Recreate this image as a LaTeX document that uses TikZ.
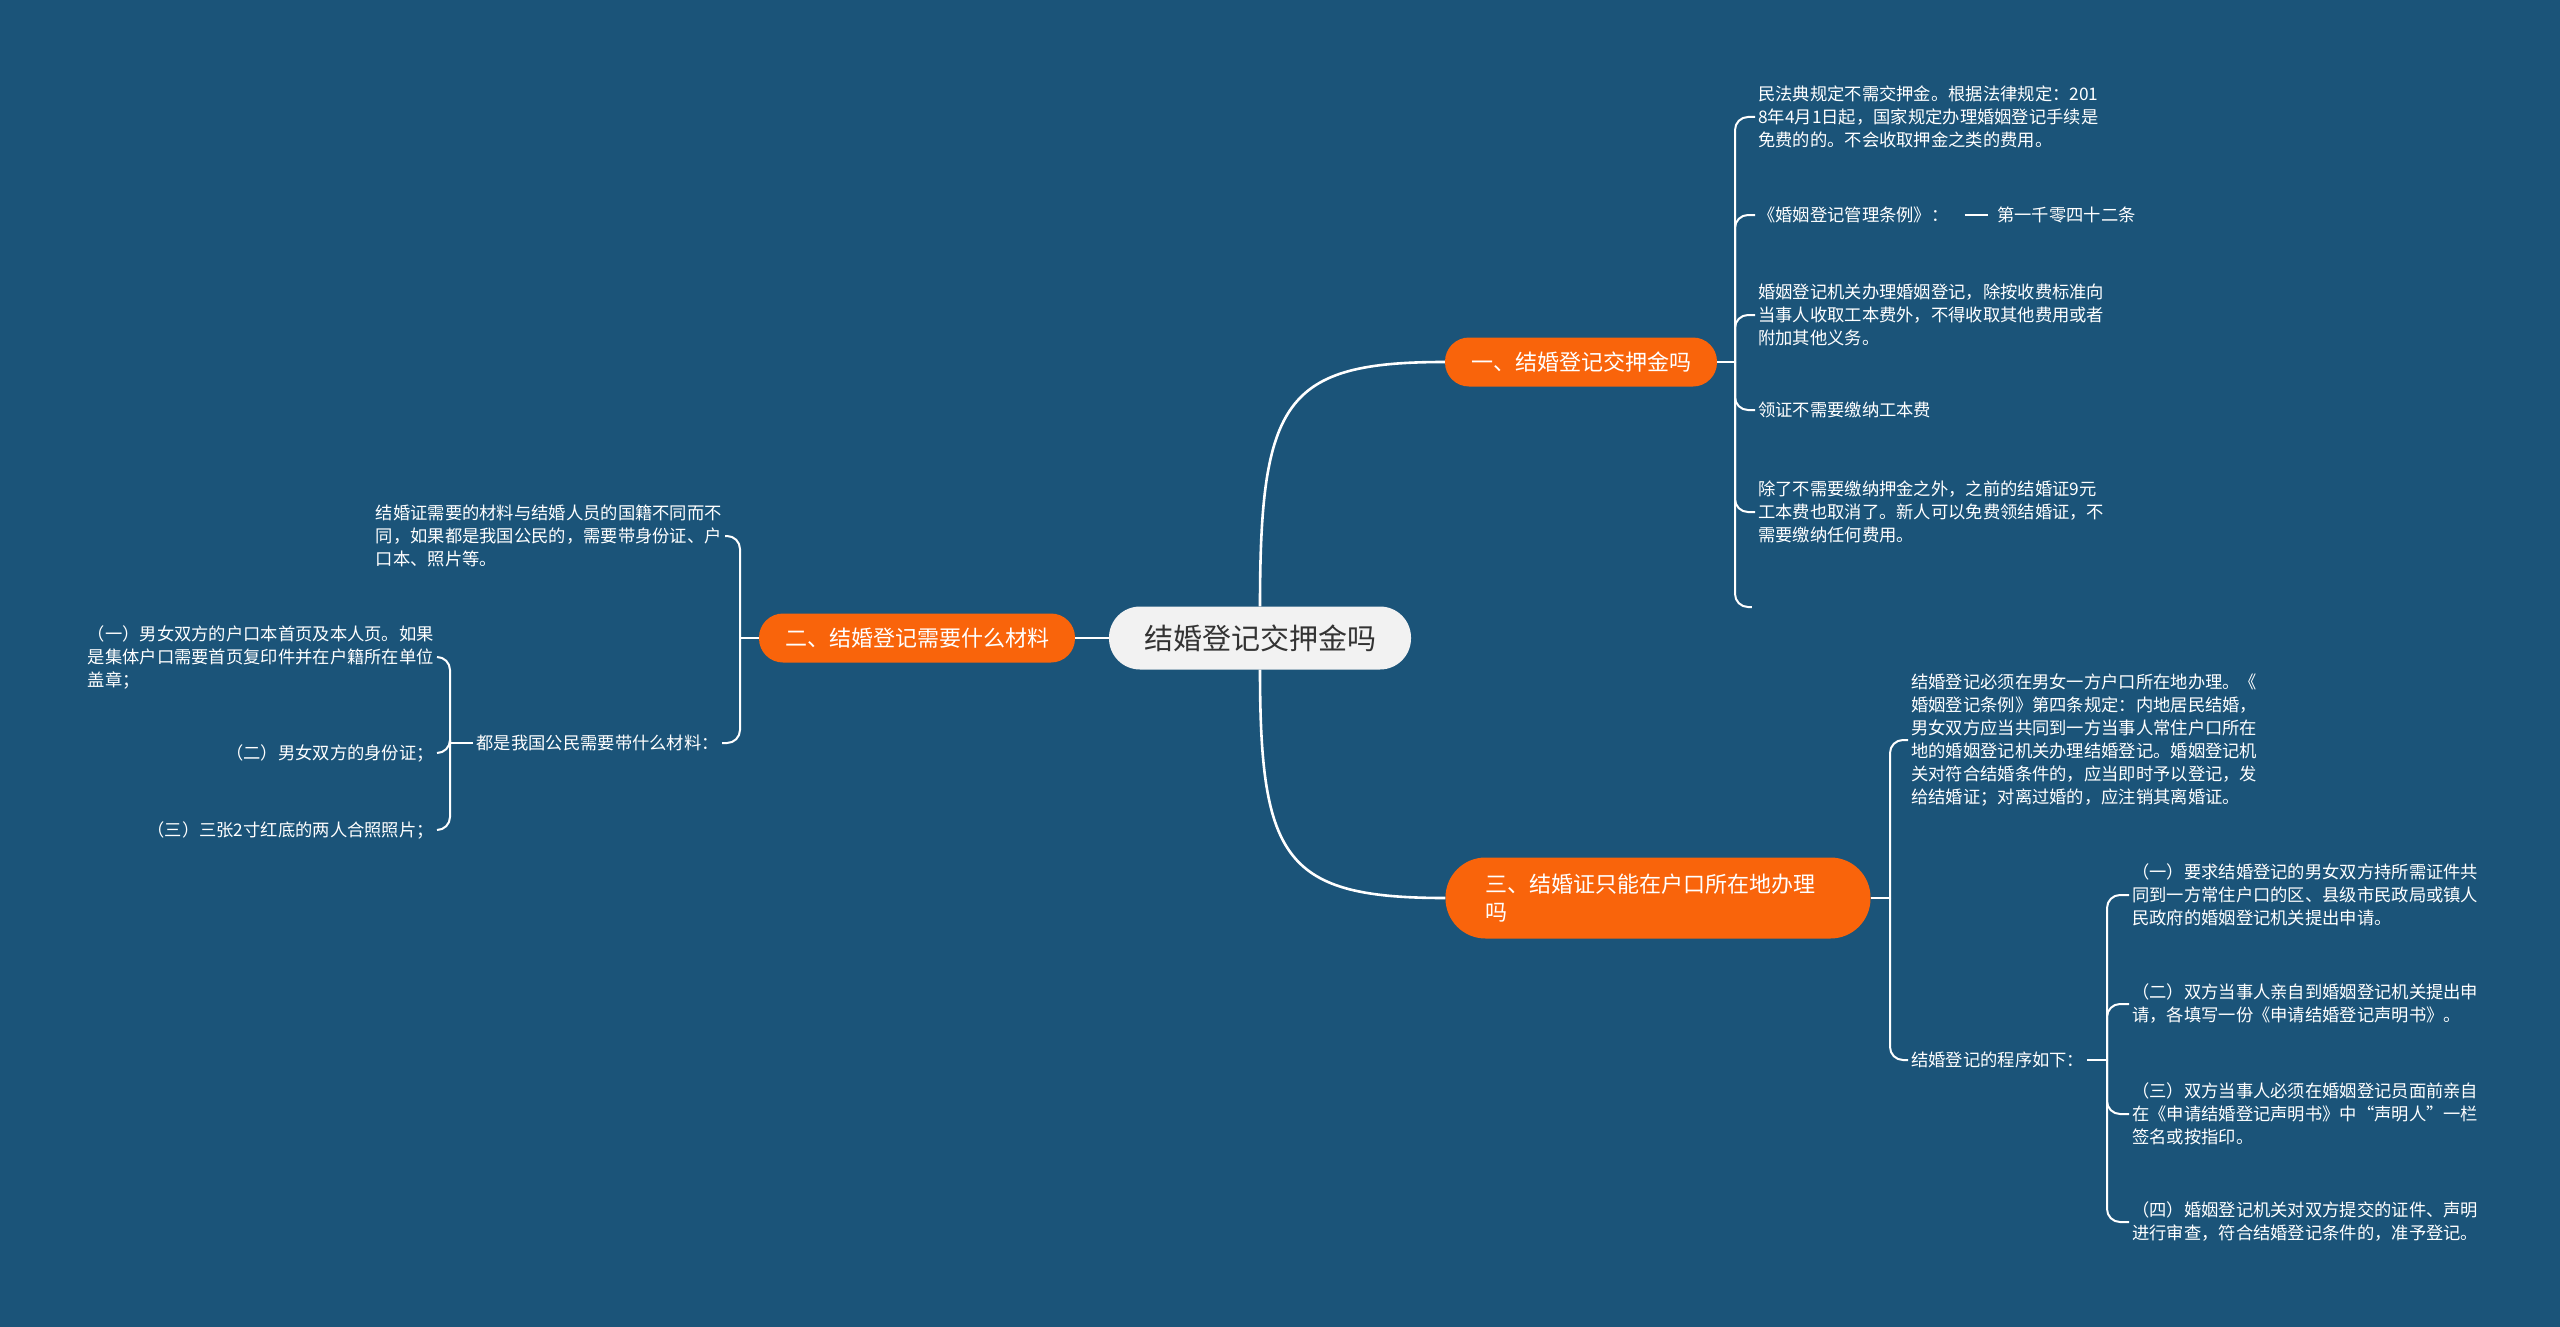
\documentclass[tikz,border=0pt]{standalone}
\usepackage{fontspec}
\setmainfont{Noto Sans CJK SC}
\usepackage{tikz}
\definecolor{mapBack}{HTML}{1B5479}
\definecolor{mapOrange}{HTML}{F9640B}
\definecolor{mapRoot}{HTML}{F2F2F2}
\definecolor{mapInk}{HTML}{333333}
\tikzset{
    map/root/.style={
        rectangle, rounded corners=31pt, fill=mapRoot, text=mapInk,
        font=\fontsize{29}{34}\selectfont,
        minimum width=302pt, minimum height=63pt, inner sep=0pt
    },
    map/topic/.style={
        rectangle, rounded corners=24pt, fill=mapOrange, text=white,
        font=\fontsize{22}{28}\selectfont,
        minimum height=49pt, inner xsep=26pt, inner ysep=0pt
    },
    map/note/.style={
        align=left, text=white, font=\fontsize{17.3}{23}\selectfont,
        inner sep=3pt
    },
    map/link/.style={draw=white, line width=2.6pt},
    map/brace/.style={draw=white, line width=2pt, rounded corners=13pt},
    map/stub/.style={inner sep=0pt, minimum size=0pt}
}

\begin{document}
\begin{tikzpicture}[x=1pt, y=-1pt]
    \fill[mapBack] (0,0) rectangle (2560,1327);
    \useasboundingbox (0,0) rectangle (2560,1327);

    \node[map/root] (root) at (1260,638) {结婚登记交押金吗};
    \node[map/topic] (t1) at (1581,362) {一、结婚登记交押金吗};
    \node[map/topic] (t2) at (917,638) {二、结婚登记需要什么材料};
    \node[map/topic, text width=345pt, align=left, inner xsep=40pt,
        minimum height=81pt, rounded corners=40pt] (t3) at (1658,898)
        {三、结婚证只能在户口所在地办理\\吗};

    % topic one
    \node[map/note, anchor=west] (c1) at (1755,117)
        {民法典规定不需交押金。根据法律规定：201\\
         8年4月1日起，国家规定办理婚姻登记手续是\\
         免费的的。不会收取押金之类的费用。};
    \node[map/note, anchor=west] (c2) at (1755,215) {《婚姻登记管理条例》：};
    \node[map/note, anchor=west] (c2a) at (1994,215) {第一千零四十二条};
    \node[map/note, anchor=west] (c3) at (1755,315)
        {婚姻登记机关办理婚姻登记，除按收费标准向\\
         当事人收取工本费外，不得收取其他费用或者\\
         附加其他义务。};
    \node[map/note, anchor=west] (c4) at (1755,410) {领证不需要缴纳工本费};
    \node[map/note, anchor=west] (c5) at (1755,512)
        {除了不需要缴纳押金之外，之前的结婚证9元\\
         工本费也取消了。新人可以免费领结婚证，不\\
         需要缴纳任何费用。};
    \node[map/stub] (c6) at (1752,607) {};
    \coordinate (j1) at (1735,362);

    % topic two
    \node[map/note, anchor=east] (d1) at (725,536)
        {结婚证需要的材料与结婚人员的国籍不同而不\\
         同，如果都是我国公民的，需要带身份证、户\\
         口本、照片等。};
    \node[map/note, anchor=east] (d2) at (722,743) {都是我国公民需要带什么材料：};
    \node[map/note, anchor=east] (e1) at (437,657)
        {（一）男女双方的户口本首页及本人页。如果\\
         是集体户口需要首页复印件并在户籍所在单位\\
         盖章；};
    \node[map/note, anchor=east] (e2) at (437,753) {（二）男女双方的身份证；};
    \node[map/note, anchor=east] (e3) at (437,830) {（三）三张2寸红底的两人合照照片；};
    \coordinate (j2) at (740,638);
    \coordinate (j3) at (450,743);

    % topic three
    \node[map/note, anchor=west] (f1) at (1908,740)
        {结婚登记必须在男女一方户口所在地办理。《\\
         婚姻登记条例》第四条规定：内地居民结婚，\\
         男女双方应当共同到一方当事人常住户口所在\\
         地的婚姻登记机关办理结婚登记。婚姻登记机\\
         关对符合结婚条件的，应当即时予以登记，发\\
         给结婚证；对离过婚的，应注销其离婚证。};
    \node[map/note, anchor=west] (f2) at (1908,1060) {结婚登记的程序如下：};
    \node[map/note, anchor=west] (g1) at (2129,895)
        {（一）要求结婚登记的男女双方持所需证件共\\
         同到一方常住户口的区、县级市民政局或镇人\\
         民政府的婚姻登记机关提出申请。};
    \node[map/note, anchor=west] (g2) at (2129,1004)
        {（二）双方当事人亲自到婚姻登记机关提出申\\
         请，各填写一份《申请结婚登记声明书》。};
    \node[map/note, anchor=west] (g3) at (2129,1114)
        {（三）双方当事人必须在婚姻登记员面前亲自\\
         在《申请结婚登记声明书》中“声明人”一栏\\
         签名或按指印。};
    \node[map/note, anchor=west] (g4) at (2129,1222)
        {（四）婚姻登记机关对双方提交的证件、声明\\
         进行审查，符合结婚登记条件的，准予登记。};
    \coordinate (j4) at (1890,898);
    \coordinate (j5) at (2107,1060);

    \draw[map/link] (root.north) .. controls (1260,400) and (1285,362) .. (t1.west);
    \draw[map/link] (root.south) .. controls (1260,860) and (1285,898) .. (t3.west);
    \draw[map/link] (root.west) -- (t2.east);

    \draw[map/brace] (t1.east) -- (j1);
    \foreach \leaf in {c1,c2,c3,c4,c5,c6}
        \draw[map/brace] (j1) |- (\leaf.west);
    \draw[map/brace, shorten <=13pt, shorten >=6pt] (c2) -- (c2a);

    \draw[map/brace] (t2.west) -- (j2);
    \foreach \leaf in {d1,d2}
        \draw[map/brace] (j2) |- (\leaf.east);
    \draw[map/brace] (d2.west) -- (j3);
    \foreach \leaf in {e1,e2,e3}
        \draw[map/brace] (j3) |- (\leaf.east);

    \draw[map/brace] (t3.east) -- (j4);
    \foreach \leaf in {f1,f2}
        \draw[map/brace] (j4) |- (\leaf.west);
    \draw[map/brace] (f2.east) -- (j5);
    \foreach \leaf in {g1,g2,g3,g4}
        \draw[map/brace] (j5) |- (\leaf.west);
\end{tikzpicture}
\end{document}
